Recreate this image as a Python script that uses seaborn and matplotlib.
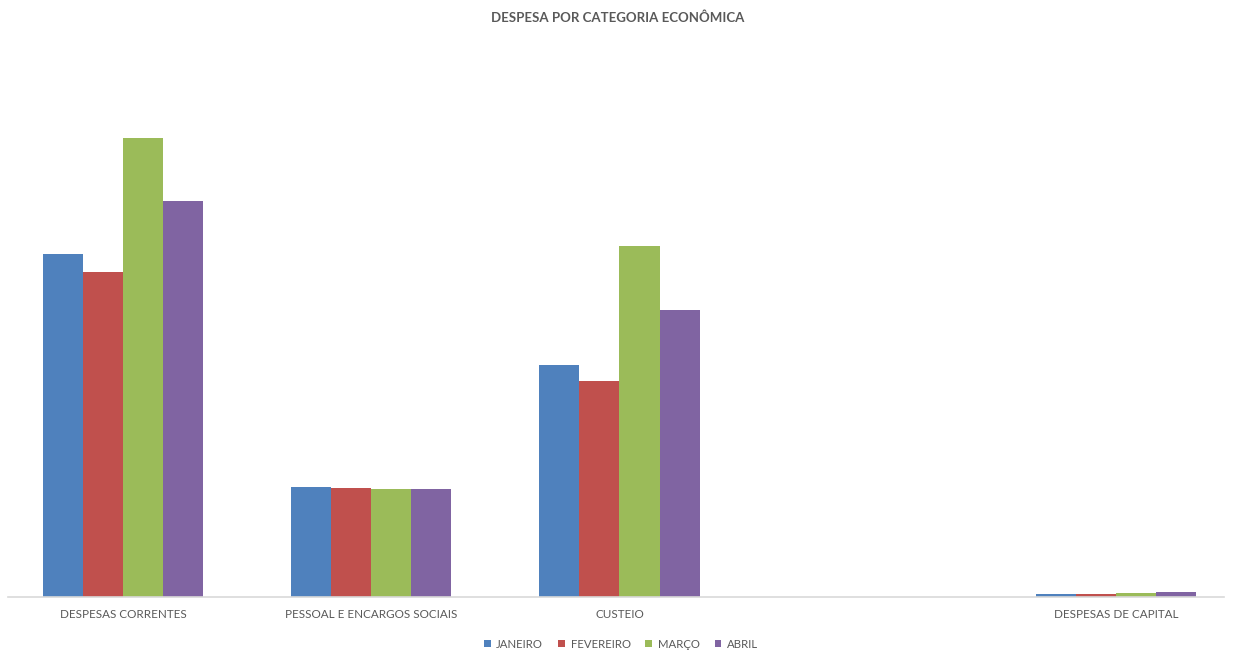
import matplotlib
matplotlib.use("Agg")
import matplotlib.pyplot as plt
import seaborn as sns
import pandas as pd

# Despesa por categoria econômica, by month
categorias = ["DESPESAS CORRENTES", "PESSOAL E ENCARGOS SOCIAIS", "CUSTEIO", "", "DESPESAS DE CAPITAL"]
meses = ["JANEIRO", "FEVEREIRO", "MARÇO", "ABRIL"]

despesas_correntes = [34.3, 32.5, 45.9, 39.6]
pessoal_encargos = [11.0, 10.9, 10.8, 10.8]
custeio = [23.2, 21.6, 35.1, 28.7]
despesas_capital = [0.30, 0.35, 0.45, 0.55]

cores = ["#4F81BD", "#C0504D", "#9BBB59", "#8064A2"]

series = {
    "DESPESAS CORRENTES": despesas_correntes,
    "PESSOAL E ENCARGOS SOCIAIS": pessoal_encargos,
    "CUSTEIO": custeio,
    "DESPESAS DE CAPITAL": despesas_capital,
}
rows = []
for cat, vals in series.items():
    for mes, v in zip(meses, vals):
        rows.append({"categoria": cat, "mes": mes, "valor": v})
df = pd.DataFrame(rows)

sns.set_theme(style="white")
plt.rcParams["font.family"] = ["Lato", "DejaVu Sans"]

fig = plt.figure(figsize=(12.36, 6.57), dpi=100)
ax = fig.add_axes([8 / 1236, 60 / 657, 1216 / 1236, 537 / 657])

sns.barplot(data=df, x="categoria", y="valor", hue="mes", order=categorias,
            hue_order=meses, palette=cores, width=0.645, saturation=1,
            linewidth=0, ax=ax)

ax.set_xlim(-0.463, 4.435)
ax.set_ylim(0, 53.7)
ax.set_xlabel("")
ax.set_ylabel("")
ax.set_yticks([])
for side in ["top", "left", "right"]:
    ax.spines[side].set_visible(False)
ax.spines["bottom"].set_color("#D9D9D9")
ax.spines["bottom"].set_linewidth(1.2)
ax.tick_params(axis="x", length=0, pad=9, labelsize=8.4, labelcolor="#595959")

fig.text(0.5, 1 - 18 / 657, "DESPESA POR CATEGORIA ECONÔMICA", ha="center", va="center",
         fontsize=9.5, fontweight="bold", color="#595959")

handles, labels = ax.get_legend_handles_labels()
ax.legend(handles, labels, loc="center", bbox_to_anchor=(621 / 1236, 1 - 644 / 657),
          bbox_transform=fig.transFigure, ncol=4, frameon=False, fontsize=8.2,
          labelcolor="#595959", handlelength=0.6, handleheight=0.6,
          handletextpad=0.5, columnspacing=1.3)

fig.savefig("out.png", dpi=100)
